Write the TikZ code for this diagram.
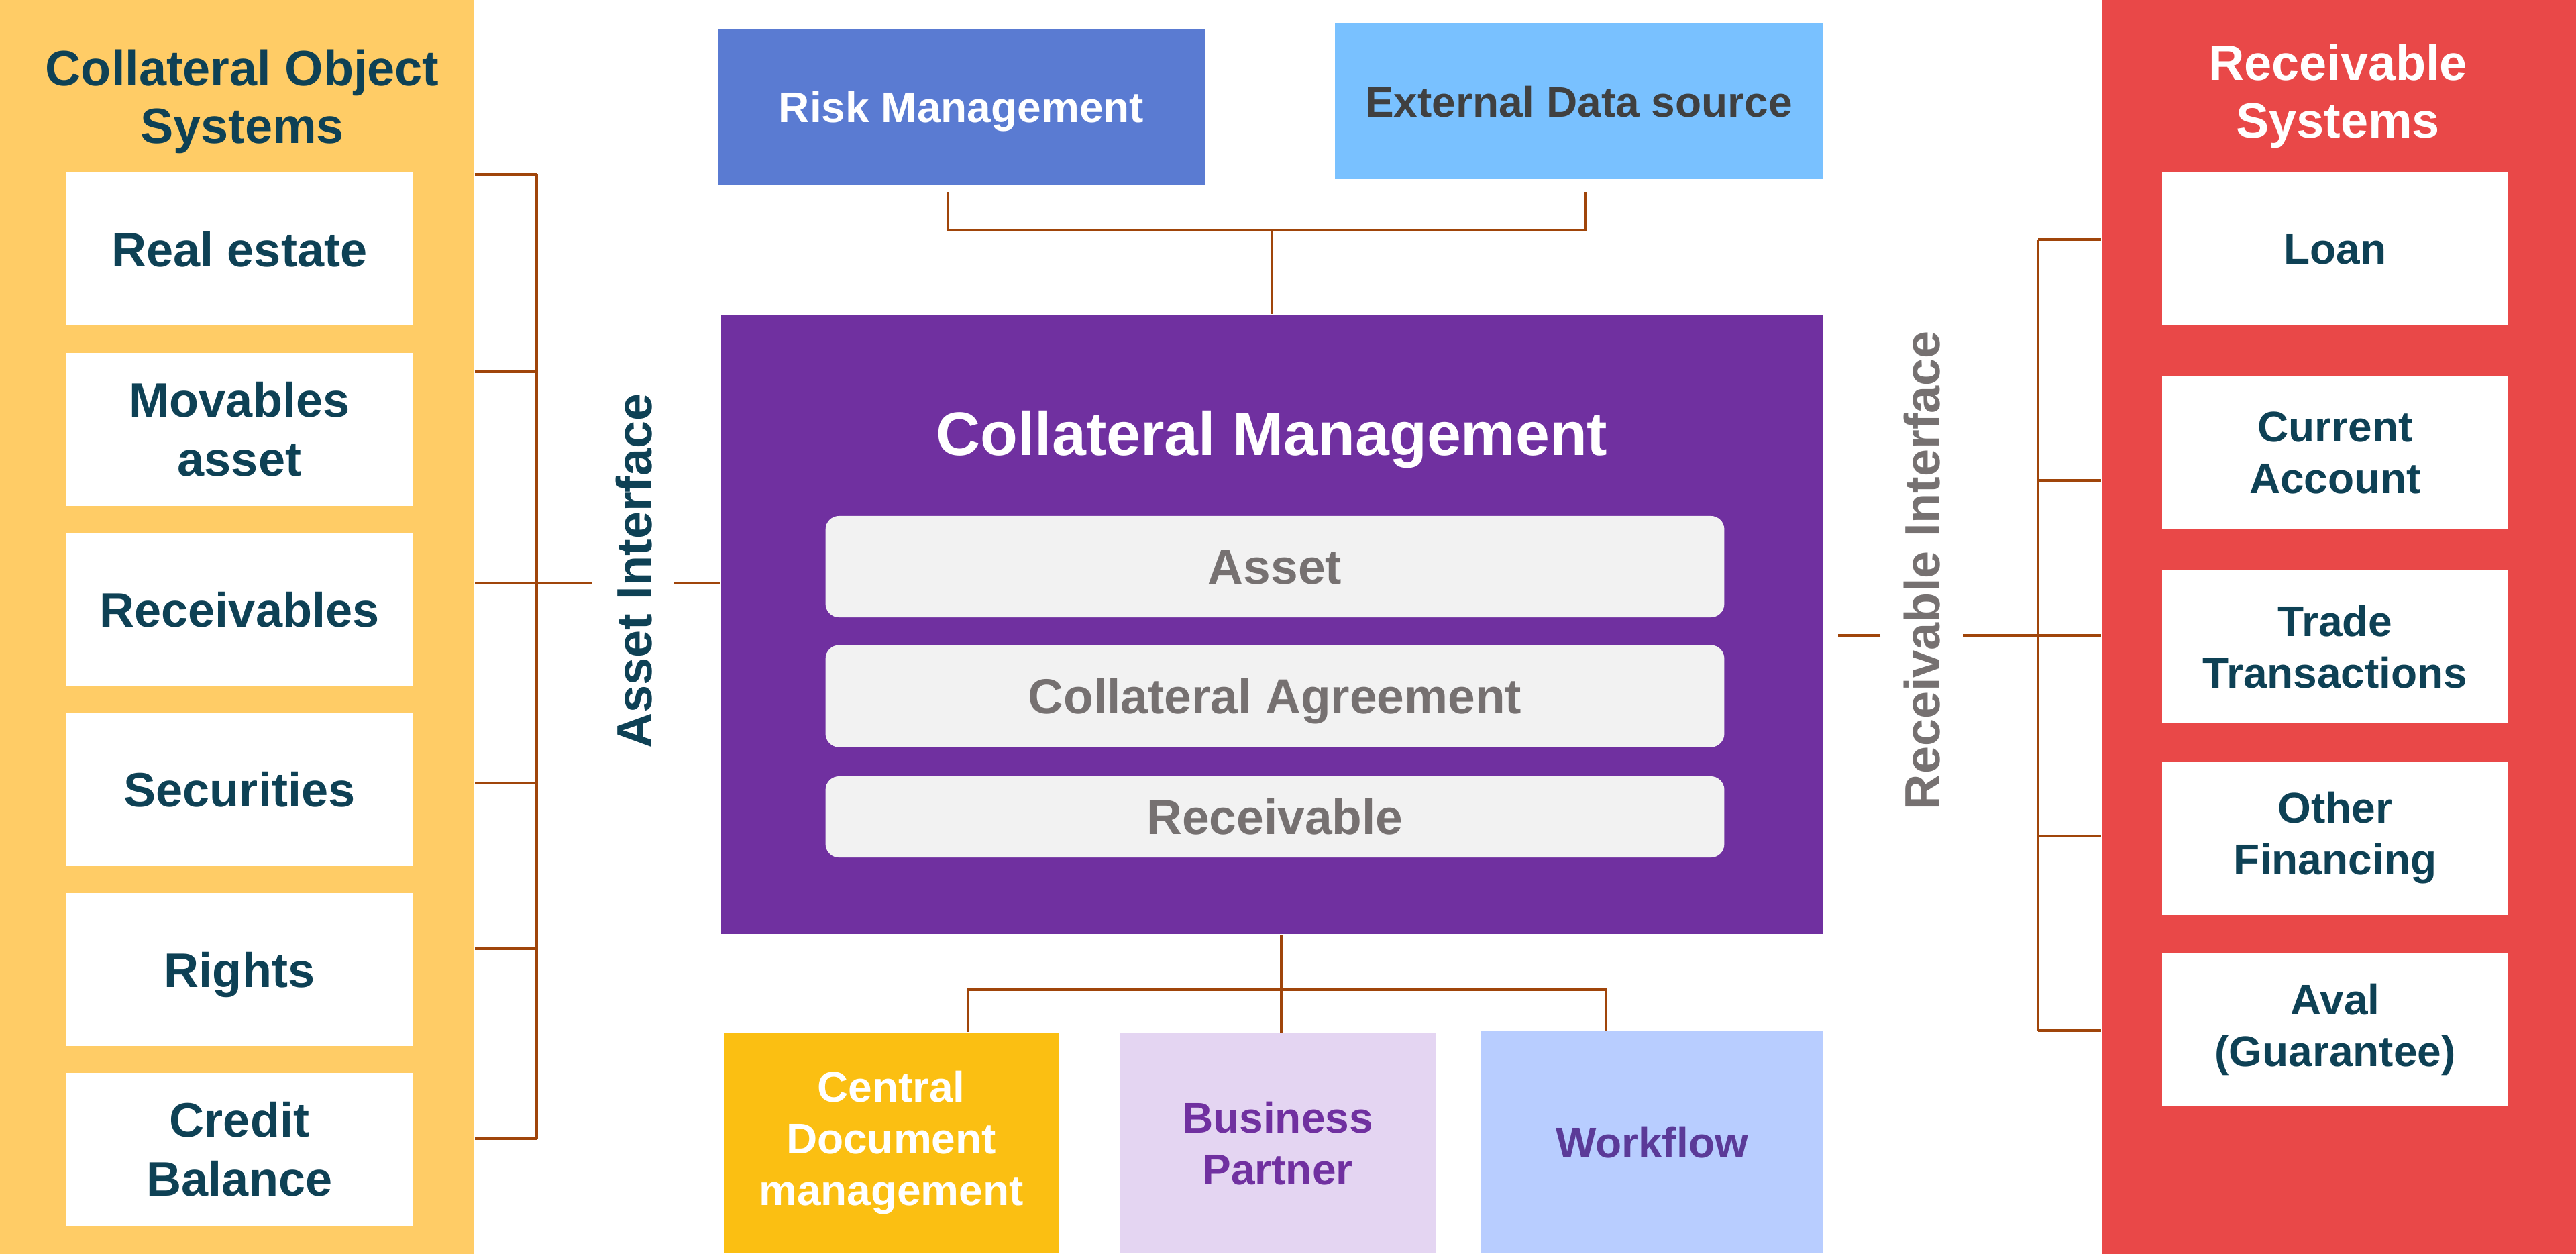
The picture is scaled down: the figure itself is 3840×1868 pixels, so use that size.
\documentclass[tikz,border=0pt]{standalone}
\usepackage{fontspec}
\setmainfont{Liberation Sans}
\usetikzlibrary{positioning}

\definecolor{objyellow}{HTML}{FFCC66}
\definecolor{recred}{HTML}{E94848}
\definecolor{tealtxt}{HTML}{0E4155}
\definecolor{wirebrown}{HTML}{A0450A}
\definecolor{cmpurple}{HTML}{7030A0}
\definecolor{layergray}{HTML}{F2F2F2}
\definecolor{layertxt}{HTML}{767171}
\definecolor{riskblue}{HTML}{5A7BD2}
\definecolor{extblue}{HTML}{79C1FF}
\definecolor{exttxt}{HTML}{404040}
\definecolor{cdmyellow}{HTML}{FBBF12}
\definecolor{bplilac}{HTML}{E4D5F2}
\definecolor{wfblue}{HTML}{B8CDFF}
\definecolor{wftxt}{HTML}{5B3A98}

\newcommand{\titlefont}{\fontsize{21pt}{24.4pt}\selectfont\bfseries}
\newcommand{\bigfont}{\fontsize{20.5pt}{24.9pt}\selectfont\bfseries}
\newcommand{\smallfont}{\fontsize{18.2pt}{21.9pt}\selectfont\bfseries}
\newcommand{\corefont}{\fontsize{26pt}{30pt}\selectfont\bfseries}
\newcommand{\layerfont}{\fontsize{20.8pt}{25pt}\selectfont\bfseries}

\begin{document}
\begin{tikzpicture}[
  x=0.01cm, y=-0.01cm,
  panel/.style={inner sep=0pt, minimum width=7.07cm, minimum height=18.68cm},
  ptitle/.style={align=center, font=\titlefont},
  item/.style={fill=white, align=center, inner sep=0pt, text=tealtxt,
               minimum width=5.15cm, minimum height=2.28cm},
  bigitem/.style={item, font=\bigfont},
  smallitem/.style={item, font=\smallfont},
  oneline/.style={text height=#1, text depth=0pt},
  layer/.style={fill=layergray, rounded corners=0.2cm, inner sep=0pt,
                text=layertxt, font=\layerfont, minimum width=13.39cm,
                oneline=0.52cm},
  topbox/.style={inner sep=0pt, font=\smallfont, minimum width=7.26cm,
                 minimum height=2.32cm, oneline=0.46cm},
  botbox/.style={inner sep=0pt, align=center, font=\smallfont,
                 minimum height=3.29cm},
  iface/.style={rotate=90, inner sep=0pt, font=\titlefont},
  wire/.style={draw=wirebrown, line width=1.2pt},
]
\useasboundingbox (0,0) rectangle (3840,1868);
\fill[white] (0,0) rectangle (3840,1868);

% ---------------- side panels ----------------
\node[panel, fill=objyellow] (objsys) at (353.5,934) {};
\node[ptitle, text=tealtxt] (objtitle) at (361,151) {Collateral Object\\Systems};

\node[panel, fill=recred] (recsys) at (3486.5,934) {};
\node[ptitle, text=white] (rectitle) at (3485,143) {Receivable\\Systems};

% collateral objects
\node[bigitem, oneline=0.52cm] (realest) at (357,371) {Real estate};
\node[bigitem, below=0.39cm of realest] (movables) {Movables\\asset};
\node[bigitem, oneline=0.52cm, below=0.39cm of movables] (recvbl) {Receivables};
\node[bigitem, oneline=0.52cm, below=0.39cm of recvbl] (secur) {Securities};
\node[bigitem, oneline=0.52cm, below=0.39cm of secur] (rights) {Rights};
\node[bigitem, below=0.38cm of rights] (credbal) {Credit\\Balance};

% receivable systems
\node[smallitem, oneline=0.45cm] (loan) at (3481,371) {Loan};
\node[smallitem, below=0.74cm of loan] (curacc) {Current\\Account};
\node[smallitem, below=0.60cm of curacc] (trade) {Trade\\Transactions};
\node[smallitem, below=0.55cm of trade] (otherfin) {Other\\Financing};
\node[smallitem, below=0.56cm of otherfin] (aval) {Aval\\(Guarantee)};

% ---------------- collateral management core ----------------
\node[fill=cmpurple, inner sep=0pt, minimum width=16.42cm,
      minimum height=9.23cm] (colmgmt) at (1896,930.5) {};
\node[text=white, font=\corefont, oneline=0.65cm] (cmtitle) at (1896,646)
  {Collateral Management};
\node[layer, minimum height=1.51cm] (assetl) at (1900.5,844.5) {Asset};
\node[layer, minimum height=1.52cm, below=0.40cm of assetl] (agreel)
  {Collateral Agreement};
\node[layer, minimum height=1.21cm, below=0.42cm of agreel] (recvl) {Receivable};

% top sources
\node[topbox, fill=riskblue, text=white] (risk) at (1433,159) {Risk Management};
\node[topbox, fill=extblue, text=exttxt, minimum width=7.27cm] (extsrc)
  at (2353.5,151) {External Data source};

% bottom services
\node[botbox, fill=cdmyellow, text=white, minimum width=4.99cm] (cdm)
  at (1328.5,1703.5) {Central\\Document\\management};
\node[botbox, fill=bplilac, text=cmpurple, minimum width=4.71cm,
      minimum height=3.28cm] (bizpart) at (1904.5,1704) {Business\\Partner};
\node[botbox, fill=wfblue, text=wftxt, minimum width=5.09cm,
      minimum height=3.31cm, oneline=0.46cm] (wflow) at (2462.5,1702.5) {Workflow};

% interface labels
\node[iface, text=tealtxt] (assetif) at (945,851) {Asset Interface};
\node[iface, text=layertxt] (recif) at (2865,850) {Receivable Interface};

% ---------------- connectors ----------------
% asset side bracket
\foreach \y [count=\i] in {260,554,869,1167,1414,1697}
  \coordinate (lt\i) at (800,\y);
\foreach \i in {1,...,6}
  \draw[wire] (objsys.east |- lt\i) -- (lt\i);
\draw[wire] (lt1) -- (lt6);
\coordinate (aifin) at (882,869);
\coordinate (aifout) at (1005,869);
\draw[wire] (lt3) -- (aifin);
\draw[wire] (aifout) -- (colmgmt.west |- aifout);

% receivable side bracket
\foreach \y [count=\i] in {357,716,947,1246,1536}
  \coordinate (rt\i) at (3038,\y);
\foreach \i in {1,...,5}
  \draw[wire] (rt\i) -- (rt\i -| recsys.west);
\draw[wire] (rt1) -- (rt5);
\coordinate (rifin) at (2926,947);
\coordinate (rifout) at (2803,947);
\coordinate (rifend) at (2740,947);
\draw[wire] (rt3) -- (rifin);
\draw[wire] (rifout) -- (rifend);

% top bracket
\coordinate (tbL) at (1413,343);
\coordinate (tbR) at (2363,343);
\coordinate (tbLt) at (1413,286);
\coordinate (tbRt) at (2363,286);
\draw[wire] (tbLt) -- (tbL) -- (tbR) -- (tbRt);
\draw[wire] (tbL -| colmgmt.north) -- (colmgmt.north);

% bottom bracket
\coordinate (bbL) at (1443,1475);
\coordinate (bbR) at (2394,1475);
\coordinate (bbM) at (1910,1475);
\draw[wire] (cdm.north -| bbL) -- (bbL) -- (bbR) -- (wflow.north -| bbR);
\draw[wire] (colmgmt.south -| bbM) -- (bizpart.north -| bbM);
\end{tikzpicture}
\end{document}
